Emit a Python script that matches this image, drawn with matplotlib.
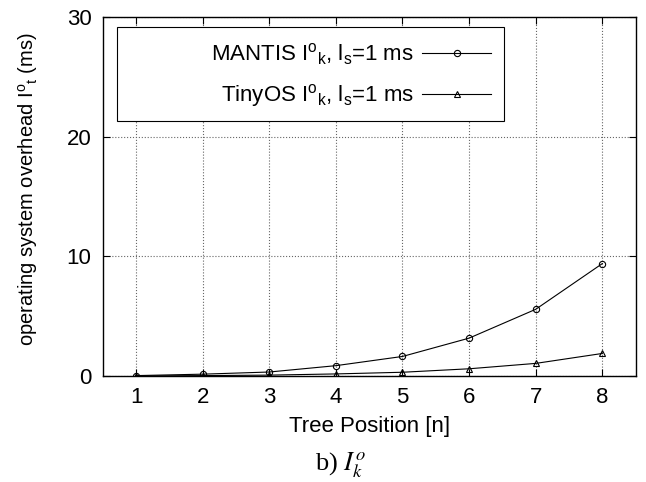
import matplotlib
matplotlib.use("Agg")
import matplotlib.pyplot as plt
from matplotlib.patches import Rectangle

plt.rcParams['font.family'] = ['Liberation Sans', 'DejaVu Sans']
plt.rcParams['mathtext.fontset'] = 'custom'
plt.rcParams['mathtext.rm'] = 'Liberation Sans'
plt.rcParams['mathtext.it'] = 'Liberation Sans'
plt.rcParams['mathtext.default'] = 'regular'

# data
positions = [1, 2, 3, 4, 5, 6, 7, 8]
mantis = [0.03, 0.15, 0.33, 0.86, 1.63, 3.16, 5.57, 9.39]
tinyos = [0.0, 0.03, 0.07, 0.17, 0.31, 0.60, 1.05, 1.88]
y_ticks = [0, 10, 20, 30]

fs = 16

fig = plt.figure(figsize=(6.46, 4.82), dpi=100)
ax = fig.add_axes([0.159, 0.220, 0.825, 0.745])

ax.plot(positions, mantis, color='black', lw=0.8, marker='o', ms=4.5,
        mfc='none', mec='black', mew=0.8,
        label=r'MANTIS I$^{o}{}_{k}$, l$_{s}$=1 ms')
ax.plot(positions, tinyos, color='black', lw=0.8, marker='^', ms=4.5,
        mfc='none', mec='black', mew=0.8,
        label=r'TinyOS I$^{o}{}_{k}$, l$_{s}$=1 ms')

ax.set_xlim(0.5, 8.5)
ax.set_ylim(0, 30)
ax.set_xticks(positions)
ax.set_yticks(y_ticks)
ax.tick_params(direction='in', length=5, width=0.8, top=True, right=True,
               labelsize=fs, pad=8)
ax.grid(True, linestyle=':', color='#666666', linewidth=0.8)
for s in ax.spines.values():
    s.set_linewidth(1.0)

ax.set_xlabel('Tree Position [n]', fontsize=fs, labelpad=6)
ax.set_ylabel(r'operating system overhead I$^{o}{}_{t}$ (ms)', fontsize=14.5)
ax.yaxis.set_label_coords(-0.118, 0.52)

# gnuplot-style key: fixed box, labels right-aligned before the samples
ax.add_patch(Rectangle((0.026, 0.71), 0.727, 0.262, transform=ax.transAxes,
                       facecolor='white', edgecolor='black', lw=0.8, zorder=4))
leg = ax.legend(loc='center right', bbox_to_anchor=(0.7285, 0.838), markerfirst=False,
                fontsize=fs, frameon=False, handlelength=3.1, handletextpad=0.35,
                borderpad=0, labelspacing=0.68, borderaxespad=0)
leg.set_zorder(5)

fig.text(0.527, 0.034, r'b) $\mathit{I_k^o}$', ha='center', va='center', fontsize=19,
         family='Liberation Serif', math_fontfamily='stix')

fig.savefig('out.png', dpi=100)
